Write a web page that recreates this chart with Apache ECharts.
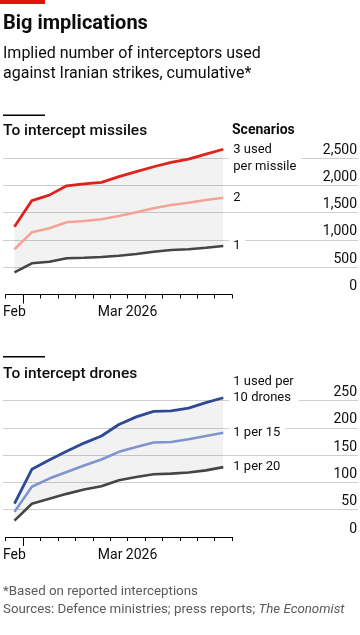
<!DOCTYPE html>
<html><head><meta charset="utf-8">
<script src="https://cdn.jsdelivr.net/npm/echarts@6/dist/echarts.min.js"></script>
<style>html,body{margin:0;padding:0;background:#fff}#c{width:360px;height:635px}</style>
</head><body><div id="c"></div>
<script>
// ---- data ----
const dates = ['2026-02-28','2026-03-01','2026-03-02','2026-03-03','2026-03-04','2026-03-05','2026-03-06','2026-03-07','2026-03-08','2026-03-09','2026-03-10','2026-03-11','2026-03-12'];
const xTickLabels = ['Feb', 'Mar 2026'];
const xTickLabelPos = [0.5, 7];      // in day units from the first day's start
const xLongTickPos = [1];
const missiles3 = [1240, 1720, 1820, 1990, 2025, 2055, 2160, 2250, 2340, 2420, 2480, 2570, 2660];
const missiles2 = [828, 1139, 1212, 1322, 1346, 1377, 1438, 1505, 1579, 1639, 1681, 1731, 1773];
const missiles1 = [406, 571, 601, 663, 674, 687, 711, 742, 784, 815, 828, 857, 888];
const drones10 = [61, 124, 141, 157, 172, 185, 206, 220, 230, 231, 236, 246, 255];
const drones15 = [46, 92, 107, 119, 131, 142, 156, 165, 173, 174, 179, 185, 191];
const drones20 = [30, 61, 70, 79, 87, 93, 104, 110, 115, 116, 118, 122, 128];
const missileTicks = {min: 0, max: 2500, interval: 500};
const droneTicks = {min: 0, max: 250, interval: 50};
const missileLabels = ['3 used\nper missile', '2', '1'];
const droneLabels = ['1 used per\n10 drones', '1 per 15', '1 per 20'];

// ---- chart ----
const FONT = 'Roboto, "Noto Sans", sans-serif';
const TXT = '#0d0d0d';
const chart = echarts.init(document.getElementById('c'), null, {renderer: 'canvas'});
const nDays = dates.length;
const band = (hi, lo) => hi.map((v, i) => v - lo[i]);

function xAxes(grid, gridFull) {
  return [
    {gridIndex: grid, type: 'category', data: dates, boundaryGap: true, position: 'bottom',
     axisLine: {show: true, onZero: false, lineStyle: {color: '#000', width: 1}},
     axisTick: {show: true, interval: 0, length: 4, lineStyle: {color: '#000', width: 1}},
     axisLabel: {show: false}, splitLine: {show: false}},
    {gridIndex: grid, type: 'value', min: 0, max: nDays, position: 'bottom',
     axisLine: {show: false, onZero: false},
     axisTick: {show: true, customValues: xLongTickPos, length: 9, lineStyle: {color: '#000', width: 1}},
     axisLabel: {show: true, customValues: xTickLabelPos, margin: 11,
       formatter: v => xTickLabels[xTickLabelPos.indexOf(v)] || '',
       color: TXT, fontSize: 14, fontFamily: FONT},
     splitLine: {show: false}},
    {gridIndex: gridFull, type: 'value', min: 0, max: 1, show: false}
  ];
}
function yAxes(grid, gridFull, t, fmt) {
  return [
    {gridIndex: grid, type: 'value', min: t.min, max: t.max, show: false},
    {gridIndex: gridFull, type: 'value', min: t.min, max: t.max, interval: t.interval, position: 'right',
     axisLine: {show: false}, axisTick: {show: false},
     axisLabel: {inside: true, margin: 1, verticalAlign: 'bottom', padding: [0, 0, 1, 0],
       color: TXT, fontSize: 14, fontFamily: FONT, formatter: fmt},
     splitLine: {show: true, showMinLine: false, lineStyle: {color: '#cfcfcf', width: 1}}}
  ];
}
function endLabel(text, offY, lh) {
  return {show: true, formatter: text, distance: 6, offset: [0, offY],
    color: TXT, fontSize: 13, fontFamily: FONT, lineHeight: lh,
    backgroundColor: '#fff', padding: [0, 5, 0, 4]};
}
function seriesSet(xi, yi, hi, mid, lo, labels, colors, offs, lh, stack) {
  const common = {type: 'line', xAxisIndex: xi, yAxisIndex: yi, symbol: 'none', clip: false, silent: true};
  return [
    Object.assign({}, common, {stack, data: lo, lineStyle: {width: 0, opacity: 0}, z: 1}),
    Object.assign({}, common, {stack, data: band(hi, lo), lineStyle: {width: 0, opacity: 0},
      areaStyle: {color: 'rgba(0,0,0,0.075)'}, z: 1}),
    Object.assign({}, common, {data: lo, lineStyle: {color: colors[2], width: 2.6}, z: 3,
      endLabel: endLabel(labels[2], offs[2], lh)}),
    Object.assign({}, common, {data: mid, lineStyle: {color: colors[1], width: 2.6}, z: 3,
      endLabel: endLabel(labels[1], offs[1], lh)}),
    Object.assign({}, common, {data: hi, lineStyle: {color: colors[0], width: 2.8}, z: 4,
      endLabel: endLabel(labels[0], offs[0], lh)})
  ];
}

const G1 = 158, G2 = 400.5, GH = 136.5;
const option = {
  animation: false,
  textStyle: {fontFamily: FONT},
  grid: [
    {left: 3, top: G1, width: 229, height: GH},
    {left: 3, top: G1, right: 2, height: GH},
    {left: 3, top: G2, width: 229, height: GH},
    {left: 3, top: G2, right: 2, height: GH}
  ],
  xAxis: [...xAxes(0, 1), ...xAxes(2, 3)],
  yAxis: [...yAxes(0, 1, missileTicks, v => v.toLocaleString('en-US')),
          ...yAxes(2, 3, droneTicks, v => String(v))],
  series: [
    ...seriesSet(0, 0, missiles3, missiles2, missiles1, missileLabels,
      ['#e0221c', '#f4a395', '#454545'], [8.5, 0, 0], 17, 'm'),
    ...seriesSet(3, 2, drones10, drones15, drones20, droneLabels,
      ['#2f4a94', '#7d95cc', '#454545'], [-8, 0, 0], 16, 'd')
  ],
  graphic: [
    {type: 'rect', shape: {x: 0, y: 0, width: 45, height: 4}, style: {fill: '#e3120b'}},
    {type: 'text', style: {text: 'Big implications', x: 3, y: 24, font: 'bold 20px ' + FONT, fill: TXT, textVerticalAlign: 'middle'}},
    {type: 'text', style: {text: 'Implied number of interceptors used', x: 3, y: 54, font: '16px ' + FONT, fill: TXT, textVerticalAlign: 'middle'}},
    {type: 'text', style: {text: 'against Iranian strikes, cumulative*', x: 3, y: 74, font: '16px ' + FONT, fill: TXT, textVerticalAlign: 'middle'}},
    {type: 'rect', shape: {x: 3, y: 114.5, width: 42, height: 1.5}, style: {fill: '#000'}},
    {type: 'text', style: {text: 'To intercept missiles', x: 3, y: 131, font: '500 15.5px ' + FONT, fill: TXT, textVerticalAlign: 'middle'}},
    {type: 'text', style: {text: 'Scenarios', x: 232, y: 130, font: 'bold 14px ' + FONT, fill: TXT, textVerticalAlign: 'middle'}},
    {type: 'rect', shape: {x: 3, y: 356, width: 42, height: 1.5}, style: {fill: '#000'}},
    {type: 'text', style: {text: 'To intercept drones', x: 3, y: 374, font: '500 15.5px ' + FONT, fill: TXT, textVerticalAlign: 'middle'}},
    {type: 'text', style: {text: '*Based on reported interceptions', x: 3, y: 592, font: '13.3px ' + FONT, fill: '#5a5a5a', textVerticalAlign: 'middle'}},
    {type: 'text', style: {text: 'Sources: Defence ministries; press reports; {i|The Economist}', x: 3, y: 610, font: '13.3px ' + FONT, fill: '#5a5a5a', textVerticalAlign: 'middle',
      rich: {i: {fontStyle: 'italic', fontSize: 13.3, fontFamily: FONT, color: '#5a5a5a'}}}}
  ]
};
chart.setOption(option);
</script></body></html>
